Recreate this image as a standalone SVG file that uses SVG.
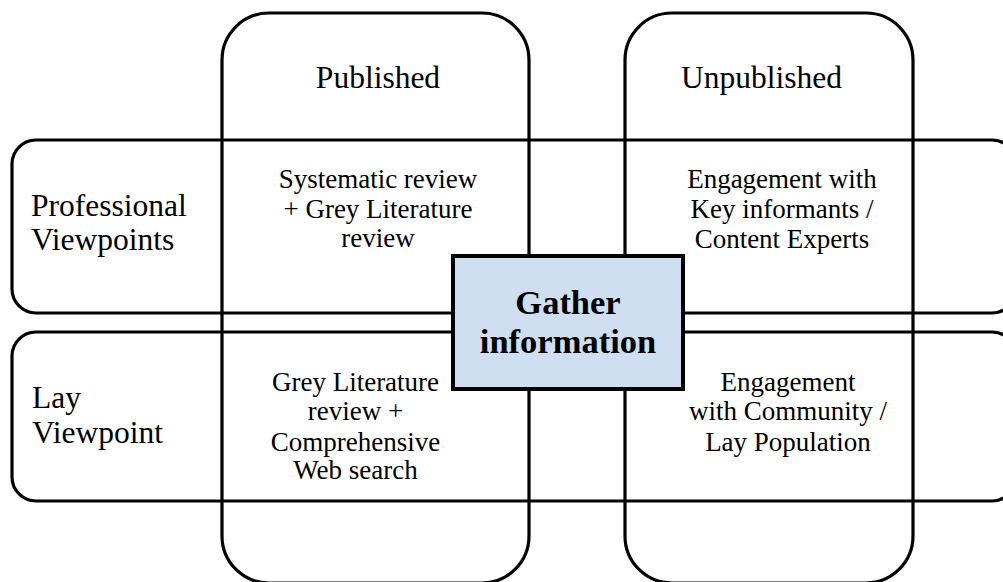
<svg xmlns="http://www.w3.org/2000/svg" width="1003" height="582" viewBox="0 0 1003 582">
<style>
.frame{fill:none;stroke:#000;stroke-width:3.2}
.hub{fill:#cfdff1;stroke:#000;stroke-width:4}
.head{font-family:"Liberation Serif","Times New Roman",serif;font-size:31.5px;fill:#000}
.body{font-family:"Liberation Serif","Times New Roman",serif;font-size:27px;fill:#000;text-anchor:middle}
.hubtext{font-family:"Liberation Serif","Times New Roman",serif;font-size:34.5px;font-weight:bold;fill:#000;text-anchor:middle}
</style>
<rect width="1003" height="582" fill="#fff"/>
<g id="col-published">
<rect class="frame" x="222" y="13" width="307" height="570" rx="47"/>
<text class="head" x="378" y="88" text-anchor="middle">Published</text>
</g>
<g id="col-unpublished">
<rect class="frame" x="625" y="13" width="288" height="570" rx="47"/>
<text class="head" x="761.5" y="88" text-anchor="middle">Unpublished</text>
</g>
<g id="row-professional">
<rect class="frame" x="12" y="140" width="1004" height="173" rx="24"/>
<text class="head" x="31" y="216">Professional</text>
<text class="head" x="31" y="250">Viewpoints</text>
</g>
<g id="row-lay">
<rect class="frame" x="12" y="332" width="1004" height="169" rx="24"/>
<text class="head" x="32" y="408">Lay</text>
<text class="head" x="32" y="443">Viewpoint</text>
</g>
<g id="cell-pub-prof">
<text class="body" x="378" y="188">Systematic review</text>
<text class="body" x="378" y="218">+ Grey Literature</text>
<text class="body" x="378" y="247">review</text>
</g>
<g id="cell-unpub-prof">
<text class="body" x="782" y="188">Engagement with</text>
<text class="body" x="782" y="218">Key informants /</text>
<text class="body" x="782" y="248">Content Experts</text>
</g>
<g id="cell-pub-lay">
<text class="body" x="355.5" y="391">Grey Literature</text>
<text class="body" x="355.5" y="420">review +</text>
<text class="body" x="355.5" y="451">Comprehensive</text>
<text class="body" x="355.5" y="479">Web search</text>
</g>
<g id="cell-unpub-lay">
<text class="body" x="788" y="391">Engagement</text>
<text class="body" x="788" y="420">with Community /</text>
<text class="body" x="788" y="451">Lay Population</text>
</g>
<g id="connectors"></g>
<g id="hub">
<rect class="hub" x="453" y="256" width="230" height="133"/>
<text class="hubtext" x="568" y="314">Gather</text>
<text class="hubtext" x="568" y="353">information</text>
</g>
</svg>
